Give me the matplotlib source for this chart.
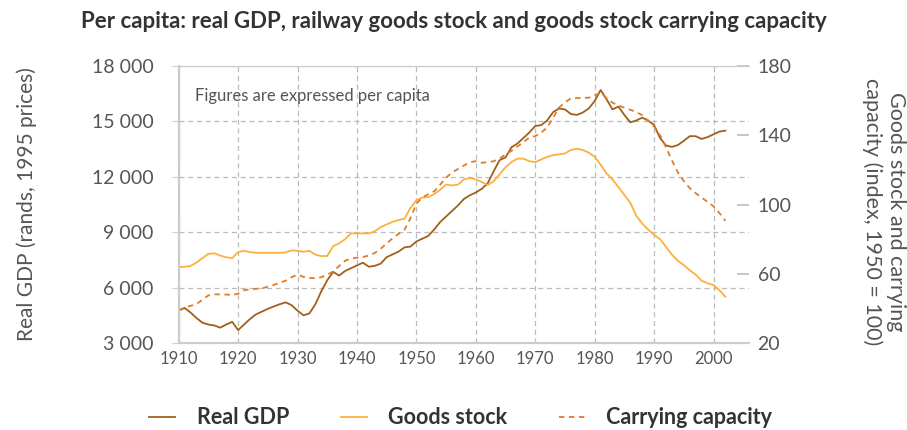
import numpy as np
import matplotlib
matplotlib.use("Agg")
import matplotlib.pyplot as plt

years = np.arange(1910, 2003)

# Real GDP per capita (rands, 1995 prices)
gdp = [4750, 4900, 4650, 4350, 4100, 4000, 3950, 3830, 4000, 4150,
       3700, 4000, 4300, 4550, 4700, 4850, 4980, 5100, 5200, 5050,
       4750, 4500, 4600, 5100, 5800, 6400, 6850, 6650, 6900, 7050,
       7200, 7350, 7130, 7180, 7300, 7650, 7800, 7950, 8180, 8220,
       8500, 8650, 8800, 9150, 9550, 9850, 10150, 10450, 10800, 11000,
       11150, 11350, 11650, 12300, 12900, 13050, 13600, 13800, 14100, 14400,
       14750, 14800, 15050, 15500, 15700, 15650, 15400, 15350, 15480, 15700,
       16100, 16700, 16200, 15650, 15800, 15350, 14950, 15050, 15200, 15050,
       14800, 14100, 13700, 13620, 13720, 13950, 14200, 14200, 14050, 14150,
       14300, 14450, 14500]

# Goods stock per capita (index, 1950 = 100)
goods = [64, 64, 64.5, 66.5, 69, 71.5, 71.8, 70.5, 69.5, 69,
         72.5, 73.3, 72.5, 72.1, 72.1, 72.1, 72.1, 72.1, 72.3, 73.5,
         73.3, 72.7, 73.3, 71, 70.2, 70.3, 76, 77.5, 80, 83.3,
         83.3, 83.3, 83.3, 84.5, 87, 88.5, 90, 91, 91.8, 98,
         102.5, 104, 104.3, 106, 108.5, 111.5, 111, 111.5, 114.5, 115.3,
         114.5, 113, 111.2, 113.5, 117.5, 121.5, 124.5, 126.5, 126.5, 125,
         124.5, 126, 127.5, 128.5, 129, 129.5, 131.5, 132.2, 131.5, 130,
         127.5, 123, 118, 114.5, 110, 105.5, 101, 93.5, 89, 85.5,
         82.5, 80, 75.5, 71, 67.5, 65, 62, 59.5, 56, 54.5,
         53.5, 50.5, 46.7]

# Goods stock carrying capacity per capita (index, 1950 = 100)
capacity = [39, 40.5, 41.5, 42.5, 45, 47.5, 48.1, 48.1, 48, 47.7,
            48.5, 50.5, 51, 51.3, 51.6, 52.5, 53.5, 54.8, 56, 58,
            59.5, 58.2, 57.6, 57.4, 58, 59.5, 61.3, 64.5, 67.5, 68.8,
            69.3, 69.7, 70.5, 72, 74.5, 77.5, 80.5, 83, 85.5, 92,
            100.5, 104, 106, 107.6, 111.5, 115.5, 118.5, 120.5, 122.5, 124.5,
            125, 124.1, 124.5, 125, 126.5, 129, 131, 133.5, 136, 138.7,
            139.5, 141.5, 144.5, 150, 156, 159, 161.3, 161.5, 161.6, 161.7,
            163, 164.6, 161.5, 158.8, 157.2, 155.9, 154.7, 153.5, 151.5, 148.5,
            145, 140, 133, 125.5, 118.5, 113.5, 109.5, 106.5, 104, 101.5,
            99, 95, 90.6]

c_gdp = "#A0601A"
c_goods = "#FBB040"
c_cap = "#E07B2A"
txt = "#555555"
grid_c = "#BBBBBB"

plt.rcParams['font.family'] = ['Lato', 'DejaVu Sans']

fig = plt.figure(figsize=(9.07, 4.30), dpi=100)
ax = fig.add_axes([0.197, 0.2023, 0.629, 0.6442])
ax2 = ax.twinx()

l1, = ax.plot(years, gdp, color=c_gdp, lw=1.3, label="Real GDP")
l2, = ax2.plot(years, goods, color=c_goods, lw=1.3, label="Goods stock")
l3, = ax2.plot(years, capacity, color=c_cap, lw=1.3, ls=(0, (3, 2.5)),
               label="Carrying capacity")

ax.set_xlim(1910, 2006)
ax.set_ylim(3000, 18000)
ax2.set_ylim(20, 180)

ax.set_yticks(np.arange(3000, 18001, 3000))
ax.set_yticklabels([f"{v:,}".replace(",", " ") for v in range(3000, 18001, 3000)])
ax.set_xticks(np.arange(1910, 2001, 10))
ax2.set_yticks([20, 60, 100, 140, 180])

ax.grid(True, ls=(0, (4, 3)), color=grid_c, lw=0.9)
ax.set_axisbelow(True)

for a in (ax, ax2):
    a.spines['right'].set_visible(False)
    a.spines['top'].set_color("#CCCCCC")
    a.spines['left'].set_color("#CCCCCC")
    a.spines['bottom'].set_color("#CCCCCC")
    a.spines['left'].set_linewidth(1.5)
    a.spines['bottom'].set_linewidth(1.5)

ax.tick_params(axis='y', colors=txt, labelsize=14, length=5, color="#CCCCCC", pad=13)
ax.tick_params(axis='x', colors=txt, labelsize=12, length=0, pad=6)
ax2.tick_params(axis='y', colors=txt, labelsize=14, direction='in',
                length=9, width=1.2, color="#BBBBBB", pad=6)

ax.set_ylabel("Real GDP (rands, 1995 prices)", color=txt, fontsize=15)
ax.yaxis.set_label_coords(-0.249, 0.5)

fig.text(884 / 907, 0.507, "Goods stock and carrying\ncapacity (index, 1950 = 100)",
         color=txt, fontsize=15.5, rotation=270, ha='center', va='center',
         multialignment='center', linespacing=1.25)

ax.text(1912.7, 16370, "Figures are expressed per capita", color=txt,
        fontsize=12, va='center')

fig.text(0.5, 1 - 22 / 430, "Per capita: real GDP, railway goods stock and goods stock carrying capacity",
         ha='center', va='center', fontsize=16, fontweight='bold', color="#333333")

leg = fig.legend(handles=[l1, l2, l3], loc='center', ncol=3,
                 bbox_to_anchor=(0.508, 1 - 418 / 430), frameon=False, fontsize=15.5,
                 handlelength=1.2, columnspacing=2.4, handletextpad=1.0)
for t in leg.get_texts():
    t.set_fontweight('bold')
    t.set_color("#333333")

fig.savefig("out.png", dpi=100)
